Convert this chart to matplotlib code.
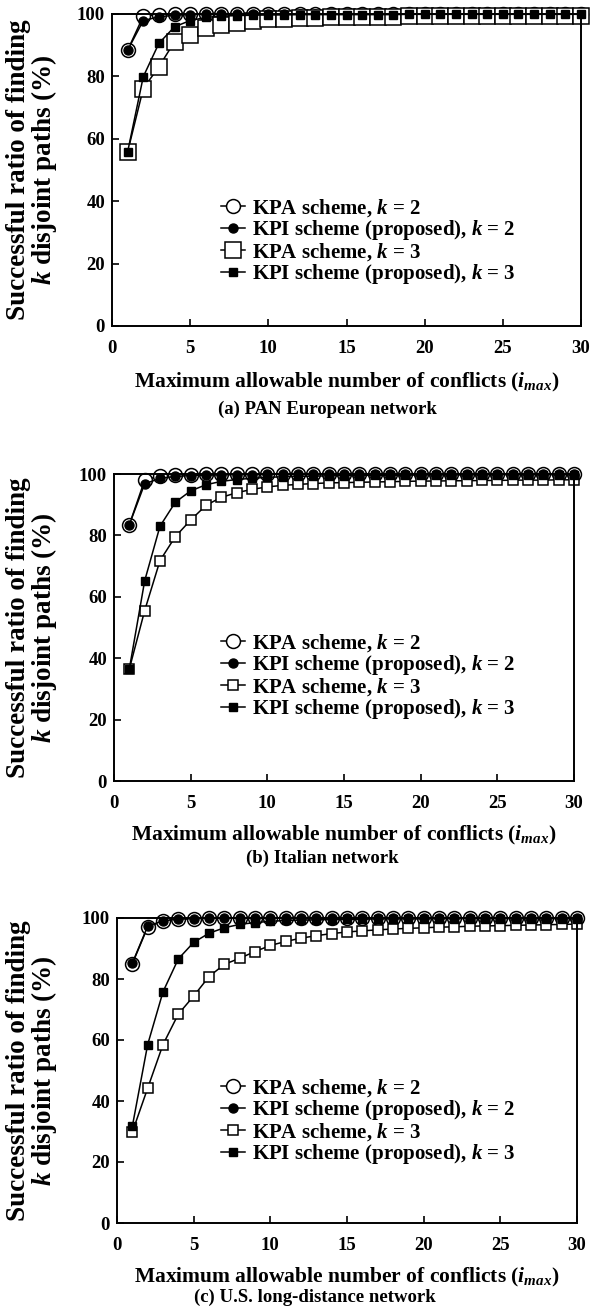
import matplotlib
matplotlib.use("Agg")
import matplotlib.pyplot as plt
import numpy as np

plt.rcParams['font.family'] = ['Liberation Serif', 'DejaVu Serif']
plt.rcParams['font.weight'] = 'bold'
plt.rcParams['mathtext.fontset'] = 'custom'
plt.rcParams['mathtext.rm'] = 'Liberation Serif:bold'
plt.rcParams['mathtext.it'] = 'Liberation Serif:italic:bold'
plt.rcParams['mathtext.bf'] = 'Liberation Serif:bold'

x = list(range(1, 31))

a_kpa2 = [88.4, 99.3, 99.8, 100, 100, 100, 100, 100, 100, 100, 100, 100, 100, 100, 100,
          100, 100, 100, 100, 100, 100, 100, 100, 100, 100, 100, 100, 100, 100, 100]
a_kpi2 = [88.4, 97.9, 99.1, 99.6, 99.8, 99.9, 99.9, 100, 100, 100, 100, 100, 100, 100, 100,
          100, 100, 100, 100, 100, 100, 100, 100, 100, 100, 100, 100, 100, 100, 100]
a_kpa3 = [55.8, 76.1, 83.1, 91.1, 93.3, 95.4, 96.5, 97.2, 97.9, 98.3, 98.5, 98.7, 98.8, 98.9, 99.0,
          99.0, 99.1, 99.1, 99.2, 99.2, 99.2, 99.3, 99.3, 99.3, 99.3, 99.4, 99.4, 99.4, 99.4, 99.4]
a_kpi3 = [55.8, 79.9, 90.6, 95.9, 97.9, 98.9, 99.3, 99.5, 99.6, 99.7, 99.7, 99.8, 99.8, 99.8, 99.8,
          99.8, 99.8, 99.8, 99.9, 99.9, 99.9, 99.9, 99.9, 99.9, 99.9, 99.9, 99.9, 99.9, 99.9, 99.9]

b_kpa2 = [83.5, 98.0, 99.4, 99.7, 99.8, 99.9, 100, 100, 100, 100, 100, 100, 100, 100, 100,
          100, 100, 100, 100, 100, 100, 100, 100, 100, 100, 100, 100, 100, 100, 100]
b_kpi2 = [83.5, 96.8, 98.6, 99.2, 99.5, 99.6, 99.7, 99.8, 99.8, 99.9, 99.9, 99.9, 99.9, 99.9, 99.9,
          99.9, 99.9, 99.9, 99.9, 99.9, 99.9, 99.9, 99.9, 99.9, 99.9, 99.9, 99.9, 99.9, 99.9, 99.9]
b_kpa3 = [36.5, 55.5, 71.8, 79.6, 85.0, 89.8, 92.4, 93.9, 95.0, 95.8, 96.3, 96.6, 96.9, 97.1, 97.2,
          97.3, 97.4, 97.5, 97.6, 97.7, 97.7, 97.8, 97.8, 97.9, 97.9, 98.0, 98.0, 98.0, 98.1, 98.1]
b_kpi3 = [36.5, 65.2, 83.0, 90.8, 94.5, 96.5, 97.6, 98.2, 98.6, 98.9, 99.1, 99.2, 99.3, 99.4, 99.5,
          99.5, 99.6, 99.6, 99.6, 99.7, 99.7, 99.7, 99.7, 99.8, 99.8, 99.8, 99.8, 99.8, 99.8, 99.8]

c_kpa2 = [85.0, 97.0, 99.0, 99.6, 99.8, 99.9, 100, 100, 100, 100, 100, 100, 100, 100, 100,
          100, 100, 100, 100, 100, 100, 100, 100, 100, 100, 100, 100, 100, 100, 100]
c_kpi2 = [85.2, 97.3, 99.1, 99.6, 99.8, 99.9, 99.9, 100, 100, 100, 100, 100, 100, 100, 100,
          100, 100, 100, 100, 100, 100, 100, 100, 100, 100, 100, 100, 100, 100, 100]
c_kpa3 = [29.8, 44.2, 58.5, 68.5, 74.4, 80.8, 84.8, 86.8, 89.0, 91.0, 92.3, 93.4, 94.2, 94.9, 95.4,
          95.8, 96.1, 96.4, 96.6, 96.8, 97.0, 97.1, 97.3, 97.4, 97.5, 97.6, 97.7, 97.8, 97.9, 98.0]
c_kpi3 = [31.7, 58.5, 75.8, 86.6, 92.0, 95.0, 96.8, 97.9, 98.5, 98.9, 99.2, 99.3, 99.4, 99.5, 99.6,
          99.6, 99.7, 99.7, 99.7, 99.7, 99.8, 99.8, 99.8, 99.8, 99.8, 99.8, 99.8, 99.8, 99.8, 99.8]

labels = ["KPA scheme, $k$ = 2", "KPI scheme (proposed), $k$ = 2",
          "KPA scheme, $k$ = 3", "KPI scheme (proposed), $k$ = 3"]
captions = ["(a) PAN European network", "(b) Italian network", "(c) U.S. long-distance network"]
xlabel = "Maximum allowable number of conflicts ($i_{max}$)"
ylabel = "Successful ratio of finding\n$k$ disjoint paths (%)"
xticks = [0, 5, 10, 15, 20, 25, 30]
yticks = [0, 20, 40, 60, 80, 100]

W, H = 602, 1313
fig = plt.figure(figsize=(W / 100, H / 100), dpi=100)

# pixel boxes: left, right, top, bottom
boxes = [(112, 581, 14, 326), (114, 574, 474, 781), (117, 577, 918, 1223)]
data = [(a_kpa2, a_kpi2, a_kpa3, a_kpi3), (b_kpa2, b_kpi2, b_kpa3, b_kpi3),
        (c_kpa2, c_kpi2, c_kpa3, c_kpi3)]
sq_open_size = [11.5, 6.8, 6.8]
cap_frac = [0.459, 0.452, 0.431]
xlab_y = [382, 835, 1277]
cap_y = [409, 858, 1297]
leg_top = [197, 632, 1077]

for i in range(3):
    l, r, t, b = boxes[i]
    ax = fig.add_axes([l / W, 1 - b / H, (r - l) / W, (b - t) / H])
    s1, s2, s3, s4 = data[i]
    lw = 1.1
    ax.plot(x, s1, '-', color='black', lw=lw, marker='o', ms=10, mfc='white', mec='black',
            mew=1.1, label=labels[0], clip_on=False)
    ax.plot(x, s2, '-', color='black', lw=lw, marker='o', ms=6.5, mfc='black', mec='black',
            label=labels[1], clip_on=False)
    ax.plot(x, s3, '-', color='black', lw=lw, marker='s', ms=sq_open_size[i], mfc='white',
            mec='black', mew=1.1, label=labels[2], clip_on=False)
    ax.plot(x, s4, '-', color='black', lw=lw, marker='s', ms=6.2, mfc='black', mec='black',
            label=labels[3], clip_on=False)
    ax.set_xlim(0, 30)
    ax.set_ylim(0, 100)
    ax.set_xticks(xticks)
    ax.set_yticks(yticks)
    for sp in ax.spines.values():
        sp.set_linewidth(1.4)
    ax.tick_params(axis='x', direction='in', length=5, width=1.2, pad=10, labelsize=13.5, top=False)
    ax.tick_params(axis='y', direction='in', length=5, width=1.2, pad=5, labelsize=13.5, right=False)
    for lab in ax.get_xticklabels() + ax.get_yticklabels():
        lab.set_fontweight('bold')
    ax.set_ylabel(ylabel, fontsize=19.5, fontweight='bold', linespacing=0.92)
    ax.yaxis.set_label_coords((59 - l) / (r - l), 0.5)
    fig.text(((l + r) / 2) / W, 1 - xlab_y[i] / H, xlabel, ha='center', va='center',
             fontsize=15.5, fontweight='bold')
    fig.text((l + cap_frac[i] * (r - l)) / W, 1 - cap_y[i] / H, captions[i], ha='center',
             va='center', fontsize=13.5, fontweight='bold')
    leg = ax.legend(loc='upper left', bbox_to_anchor=((221 - l) / (r - l), (b - leg_top[i]) / (b - t)),
                    frameon=False, handlelength=1.15, handletextpad=0.33, labelspacing=-0.04,
                    borderaxespad=0, borderpad=0, prop={'weight': 'bold', 'size': 15})

fig.savefig("out.png", dpi=100)
